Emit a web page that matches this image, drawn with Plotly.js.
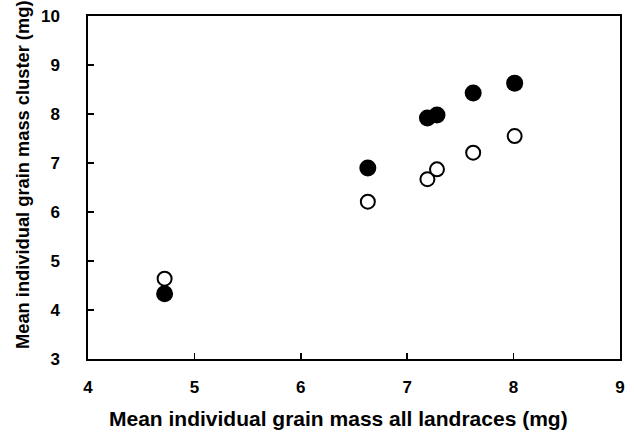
<!DOCTYPE html>
<html>
<head>
<meta charset="utf-8">
<script src="https://cdn.plot.ly/plotly-3.0.1.min.js"></script>
<style>html,body{margin:0;padding:0;background:#fff}#chart{width:634px;height:433px}</style>
</head>
<body>
<div id="chart"></div>
<script>
const allLandraces = [4.72, 6.63, 7.19, 7.28, 7.62, 8.01];
const clusterOpen = [4.64, 6.21, 6.67, 6.87, 7.21, 7.55];
const clusterFilled = [4.33, 6.90, 7.92, 7.98, 8.43, 8.63];
const xTicks = [4, 5, 6, 7, 8, 9];
const yTicks = [3, 4, 5, 6, 7, 8, 9, 10];
const xTitle = 'Mean individual grain mass all landraces (mg)';
const yTitle = 'Mean individual grain mass cluster (mg)';

const fam = 'Liberation Sans, Arial, sans-serif';

const traces = [
  {x: allLandraces, y: clusterFilled, type: 'scatter', mode: 'markers', name: 'filled',
   marker: {symbol: 'circle', size: 17, color: '#000', line: {width: 0}}},
  {x: allLandraces, y: clusterOpen, type: 'scatter', mode: 'markers', name: 'open',
   marker: {symbol: 'circle', size: 14, color: '#fff', line: {width: 2, color: '#000'}}}
];

const layout = {
  width: 634, height: 433,
  margin: {l: 88, r: 14, t: 16, b: 74},
  paper_bgcolor: '#fff', plot_bgcolor: '#fff',
  showlegend: false,
  font: {family: fam, color: '#000', size: 17},
  xaxis: {
    range: [4, 9], tickmode: 'array', tickvals: xTicks,
    ticktext: xTicks.map(v => '<b>' + v + '</b>'),
    showgrid: false, zeroline: false,
    showline: true, linecolor: '#000', linewidth: 2, mirror: true,
    ticks: 'inside', ticklen: 6, tickwidth: 1.5, tickcolor: '#000',
    ticklabelstandoff: 12,
    tickfont: {family: fam, size: 17, color: '#000', weight: 'bold'}
  },
  yaxis: {
    range: [3, 10], tickmode: 'array', tickvals: yTicks,
    ticktext: yTicks.map(v => '<b>' + v + '</b>\u00a0'),
    showgrid: false, zeroline: false,
    showline: true, linecolor: '#000', linewidth: 2, mirror: true,
    ticks: 'inside', ticklen: 6, tickwidth: 1.5, tickcolor: '#000',
    ticklabelstandoff: 18,
    tickfont: {family: fam, size: 17, color: '#000', weight: 'bold'}
  },
  annotations: [
    {text: '<b>' + xTitle + '</b>', xref: 'paper', yref: 'paper',
     x: 0.4709, y: -0.1749, xanchor: 'center', yanchor: 'middle', showarrow: false,
     font: {family: fam, size: 21, color: '#000'}},
    {text: '<b>' + yTitle + '</b>', xref: 'paper', yref: 'paper', textangle: -90,
     x: -0.1222, y: 0.5365, xanchor: 'center', yanchor: 'middle', showarrow: false,
     font: {family: fam, size: 18.3, color: '#000'}}
  ]
};

Plotly.newPlot('chart', traces, layout, {displayModeBar: false, staticPlot: true});
</script>
</body>
</html>
